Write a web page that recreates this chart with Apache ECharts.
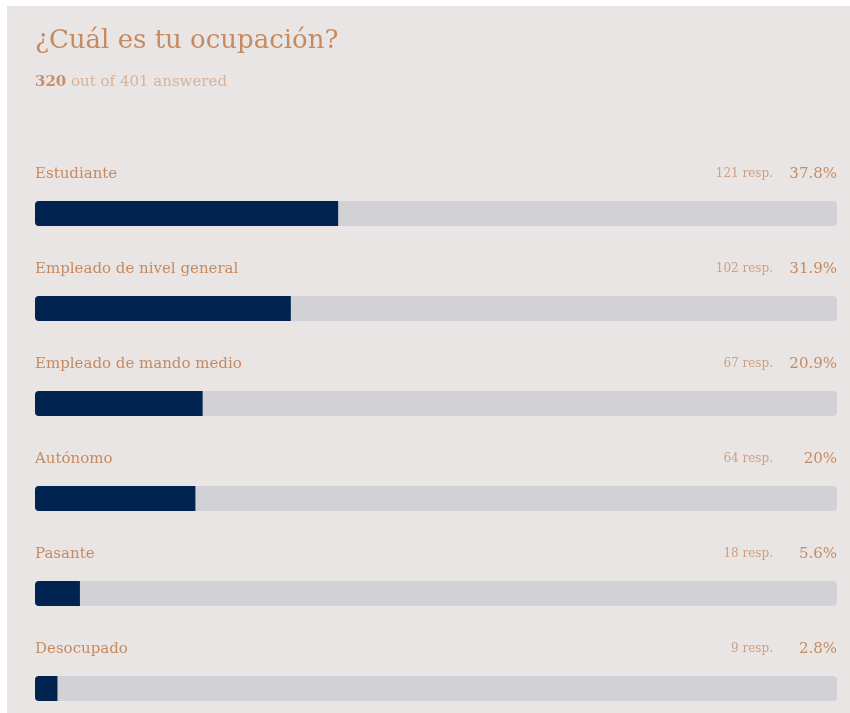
<!DOCTYPE html>
<html>
<head>
<meta charset="utf-8">
<script src="https://cdn.jsdelivr.net/npm/echarts@6/dist/echarts.min.js"></script>
<style>
  html, body { margin: 0; padding: 0; background: #ffffff; }
  #chart { width: 850px; height: 713px; }
</style>
</head>
<body>
<div id="chart"></div>
<script>
// Survey question: occupation of respondents
const categories = [
  'Estudiante',
  'Empleado de nivel general',
  'Empleado de mando medio',
  'Autónomo',
  'Pasante',
  'Desocupado'
];
const responses = [121, 102, 67, 64, 18, 9];
const percentages = [37.8, 31.9, 20.9, 20, 5.6, 2.8];
const answeredCount = 320;
const totalCount = 401;
const fullScale = categories.map(() => 100);

const FONT = '"DejaVu Serif", Georgia, serif';
const ACCENT = '#c78a5e';

const chart = echarts.init(document.getElementById('chart'), null, { renderer: 'canvas' });

chart.setOption({
  animation: false,
  backgroundColor: 'transparent',
  graphic: [{
    type: 'rect',
    z: -10,
    silent: true,
    shape: { x: 7, y: 6, width: 843, height: 707 },
    style: { fill: '#e9e5e5' }
  }],
  title: {
    left: 30,
    top: 23,
    itemGap: 21,
    text: '¿Cuál es tu ocupación?',
    textStyle: { fontFamily: FONT, fontSize: 26, fontWeight: 'normal', color: ACCENT },
    subtext: '{n|' + answeredCount + '} out of ' + totalCount + ' answered',
    subtextStyle: {
      fontFamily: FONT, fontSize: 15, color: '#d8b397',
      rich: { n: { fontFamily: FONT, fontSize: 15, color: '#c98f66', fontWeight: 'bold' } }
    }
  },
  // rows sit on the category ticks, one every 95px
  grid: { left: 35, width: 802, top: 213.5, height: 475, containLabel: false },
  xAxis: { type: 'value', min: 0, max: 100, show: false },
  yAxis: { type: 'category', data: categories, inverse: true, show: false, boundaryGap: false },
  series: [
    {
      name: 'track',
      type: 'bar',
      data: fullScale,
      barWidth: 25,
      clip: false,
      silent: true,
      itemStyle: { color: '#d2d1d5', borderRadius: 4 },
      label: {
        show: true,
        position: ['100%', -27],
        align: 'right',
        verticalAlign: 'middle',
        formatter: (p) => '{r|' + responses[p.dataIndex] + ' resp.}{p|' + percentages[p.dataIndex] + '%}',
        rich: {
          r: { fontFamily: FONT, fontSize: 12, color: '#d09f7f' },
          p: { fontFamily: FONT, fontSize: 15, color: ACCENT, width: 64, align: 'right' }
        }
      }
    },
    {
      name: 'share',
      type: 'bar',
      data: percentages,
      barWidth: 25,
      barGap: '-100%',
      clip: false,
      itemStyle: { color: '#00234f', borderRadius: [4, 0, 0, 4] },
      label: {
        show: true,
        position: [0, -27],
        align: 'left',
        verticalAlign: 'middle',
        formatter: '{b}',
        fontFamily: FONT,
        fontSize: 15,
        color: ACCENT
      }
    }
  ]
});
</script>
</body>
</html>
